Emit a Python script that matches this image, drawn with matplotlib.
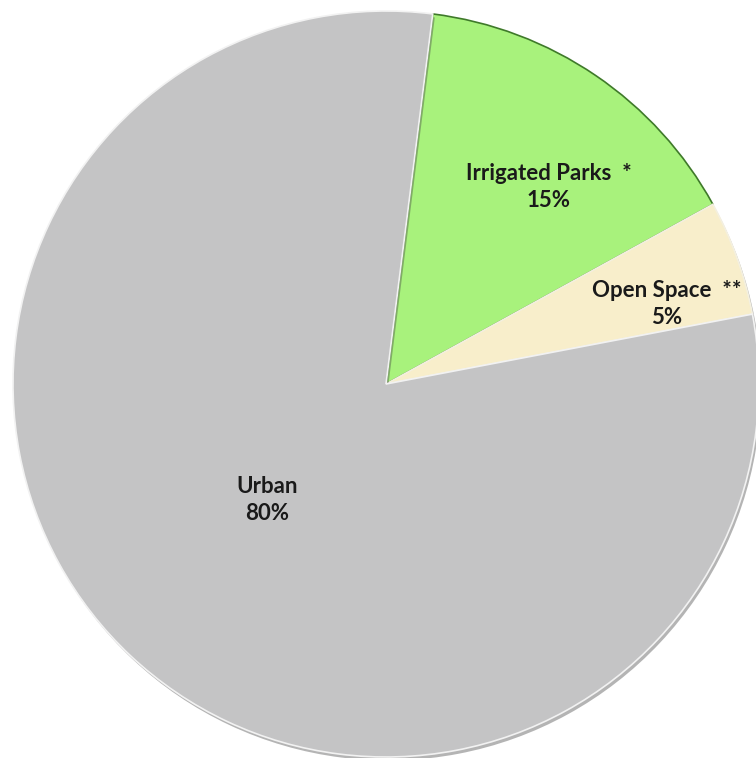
import numpy as np
import matplotlib.pyplot as plt
import matplotlib.patheffects as pe

labels = ["Irrigated Parks  *", "Open Space  **", "Urban"]
shares = [15, 5, 80]
colors = ["#a8f27c", "#f8eecb", "#c4c4c5"]
edge_colors = ["#3f7a2a", "#f4f0e0", "#f2f2f2"]

# where each label sits (pixels in the 756x758 picture)
label_px = [(549, 187), (667, 304), (267, 500)]

W, H = 756, 758
cx, cy, r = 386, 384, 373

fig = plt.figure(figsize=(W / 100, H / 100), dpi=100)
ax = fig.add_axes([0, 0, 1, 1])

wedges, _ = ax.pie(shares, colors=colors, startangle=82.8, counterclock=False,
                   radius=1.0, center=(0, 0),
                   wedgeprops=dict(linewidth=1.2))
for w, ec in zip(wedges, edge_colors):
    w.set_edgecolor(ec)
    w.set_path_effects([pe.SimplePatchShadow(offset=(1.5, -2.5), shadow_rgbFace="#444444", alpha=0.4),
                        pe.Normal()])

# pixel -> data
def to_data(px, py):
    return (px - cx) / r, (cy - py) / r

for lab, s, (px, py) in zip(labels, shares, label_px):
    x, y = to_data(px, py)
    ax.text(x, y, f"{lab}\n{s}%", ha="center", va="center",
            fontsize=16, fontweight="bold", family=["Lato", "DejaVu Sans"],
            color="#1a1a1a", linespacing=1.3)

ax.set_xlim(-cx / r, (W - cx) / r)
ax.set_ylim(-(H - cy) / r, cy / r)
ax.set_aspect("auto")
ax.axis("off")

fig.savefig("out.png", dpi=100)
